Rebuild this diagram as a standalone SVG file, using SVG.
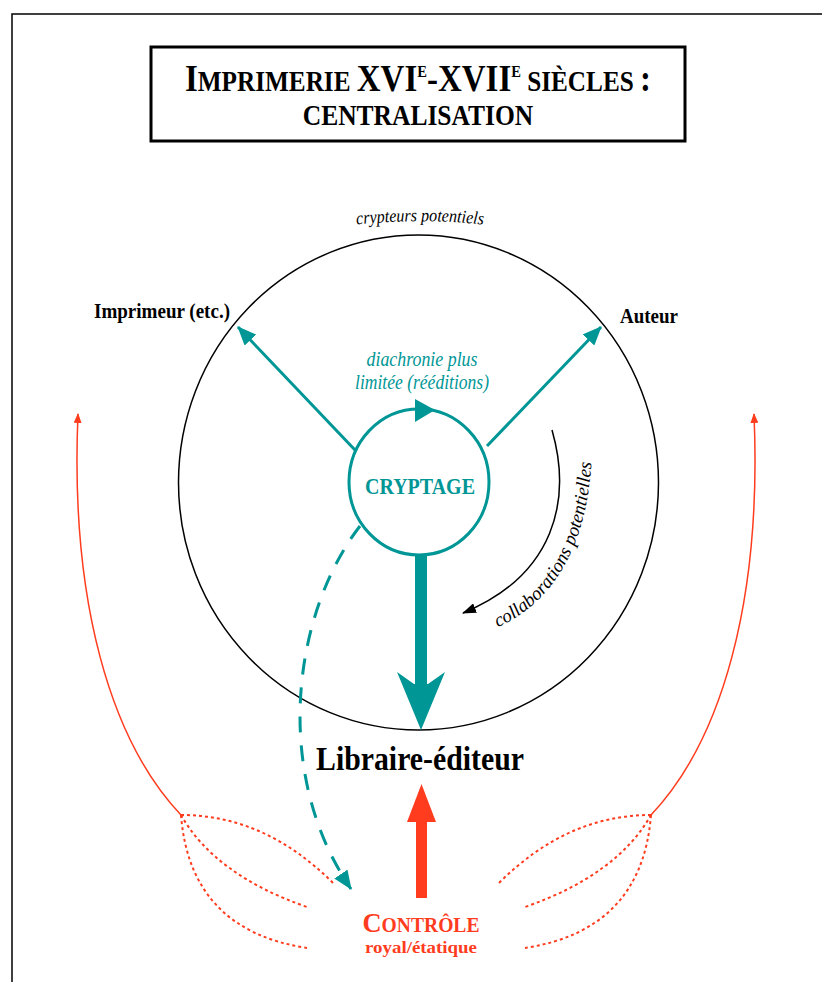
<svg xmlns="http://www.w3.org/2000/svg" width="822" height="982" viewBox="0 0 822 982">
<style>
.serif{font-family:"Liberation Serif","Times New Roman",serif}
.b{font-weight:bold}
.i{font-style:italic}
.teal{fill:#009696}
.red{fill:#ff3c1e}
</style>
<defs>
<marker id="mt" markerUnits="userSpaceOnUse" markerWidth="20" markerHeight="16" refX="18" refY="8" orient="auto"><path d="M0,0 L19,8 L0,16 Z" fill="#009696"/></marker>
<marker id="mk" markerUnits="userSpaceOnUse" markerWidth="14" markerHeight="10" refX="13" refY="5" orient="auto"><path d="M0,0 L14,5 L0,10 Z" fill="#000"/></marker>
<marker id="mr" markerUnits="userSpaceOnUse" markerWidth="10" markerHeight="8" refX="9" refY="4" orient="auto"><path d="M0,0 L10,4 L0,8 Z" fill="#ff3c1e"/></marker>
<path id="arcTop" d="M330,228 A600,600 0 0 1 510,228"/>
<path id="arcCollab" d="M496,628 C556,602 592,540 592,440"/>
</defs>

<path d="M12,982 L12,14 L822,14" fill="none" stroke="#000" stroke-width="1.5"/>

<g id="title">
<rect x="151" y="47" width="534" height="94" fill="none" stroke="#000" stroke-width="3"/>
<text class="serif b" font-size="26" text-anchor="middle" transform="translate(418,91) scale(0.97,1.1)"><tspan font-size="34">I</tspan>MPRIMERIE <tspan font-size="34">XVI</tspan><tspan font-size="15" dy="-13">E</tspan><tspan font-size="34" dy="13">-XVII</tspan><tspan font-size="15" dy="-13">E</tspan><tspan dy="13"> SIÈCLES </tspan><tspan font-size="34">:</tspan></text>
<text class="serif b" font-size="29" text-anchor="middle" transform="translate(418,125) scale(0.88,1.02)">CENTRALISATION</text>
</g>

<g id="cercle">
<ellipse cx="418.5" cy="482.5" rx="240" ry="247.5" fill="none" stroke="#000" stroke-width="1.5"/>
<text class="serif i" font-size="18" text-anchor="middle"><textPath href="#arcTop" startOffset="50%" textLength="127" lengthAdjust="spacingAndGlyphs">crypteurs potentiels</textPath></text>
</g>

<g id="imprimeur">
<text class="serif b" x="94" y="318" font-size="20" textLength="136" lengthAdjust="spacingAndGlyphs">Imprimeur (etc.)</text>
</g>

<g id="auteur">
<text class="serif b" x="620" y="323" font-size="20" textLength="58" lengthAdjust="spacingAndGlyphs">Auteur</text>
</g>

<g id="cryptage">
<ellipse cx="419" cy="482" rx="70" ry="73" fill="none" stroke="#009696" stroke-width="3"/>
<polygon points="415,399 415,422 435,410" fill="#009696"/>
<text class="serif b teal" x="420" y="494" font-size="24" text-anchor="middle" textLength="110" lengthAdjust="spacingAndGlyphs">CRYPTAGE</text>
<text class="serif i teal" x="422" y="366" font-size="20" text-anchor="middle" textLength="111" lengthAdjust="spacingAndGlyphs">diachronie plus</text>
<text class="serif i teal" x="422" y="389" font-size="20" text-anchor="middle" textLength="134" lengthAdjust="spacingAndGlyphs">limitée (rééditions)</text>
</g>

<g id="libraire">
<text class="serif b" x="420" y="770" font-size="34" text-anchor="middle" textLength="208" lengthAdjust="spacingAndGlyphs">Libraire-éditeur</text>
</g>

<g id="controle">
<text class="serif b red" x="421" y="932" font-size="20" text-anchor="middle" textLength="117" lengthAdjust="spacingAndGlyphs"><tspan font-size="27">C</tspan>ONTRÔLE</text>
<text class="serif b red" x="421" y="953" font-size="17" text-anchor="middle" textLength="112" lengthAdjust="spacingAndGlyphs">royal/étatique</text>
</g>

<g id="collaborations">
<text class="serif i" font-size="19"><textPath href="#arcCollab" startOffset="2" textLength="200" lengthAdjust="spacingAndGlyphs">collaborations potentielles</textPath></text>
</g>

<g id="connectors">
<line x1="355" y1="450" x2="238" y2="327" stroke="#009696" stroke-width="3" marker-end="url(#mt)"/>
<line x1="487" y1="446" x2="601" y2="327" stroke="#009696" stroke-width="3" marker-end="url(#mt)"/>
<rect x="415" y="555" width="12" height="130" fill="#009696"/>
<polygon points="421,730 397,672 414,684 428,684 445,672" fill="#009696"/>
<path d="M360,526 C295,610 270,770 351,889" fill="none" stroke="#009696" stroke-width="3" stroke-dasharray="16,13" marker-end="url(#mt)"/>
<path d="M552,430 C572,500 555,575 463,613" fill="none" stroke="#000" stroke-width="1.5" marker-end="url(#mk)"/>
<rect x="416" y="818" width="11" height="80" fill="#ff3c1e"/>
<polygon points="421.5,784 407,822 436,822" fill="#ff3c1e"/>
<path d="M181,815 C110,740 70,600 78,414" fill="none" stroke="#ff3c1e" stroke-width="1.5" marker-end="url(#mr)"/>
<path d="M651,815 C722,740 762,600 754,414" fill="none" stroke="#ff3c1e" stroke-width="1.5" marker-end="url(#mr)"/>
<g fill="none" stroke="#ff3c1e" stroke-width="2" stroke-dasharray="3,3">
<path d="M181,815 Q265,815 333,883"/>
<path d="M181,815 Q215,875 307,907"/>
<path d="M181,815 Q190,930 307,948"/>
<path d="M651,815 Q567,815 499,883"/>
<path d="M651,815 Q617,875 525,907"/>
<path d="M651,815 Q642,930 525,948"/>
</g>
</g>
</svg>
